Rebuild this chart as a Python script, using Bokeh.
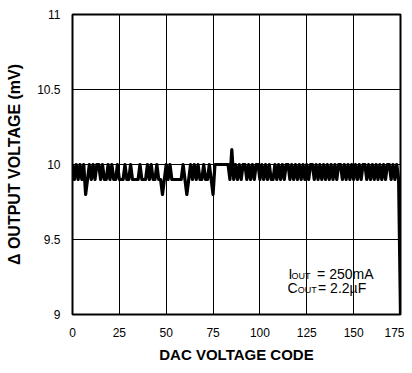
from bokeh.plotting import figure
from bokeh.models import Label, FixedTicker, Range1d
from bokeh.embed import file_html
from bokeh.resources import INLINE

# DAC code (x) and delta output voltage in mV (y)
codes = list(range(0, 176))
dvout = [
    10.0, 9.9, 10.0, 9.9, 10.0, 9.9, 10.0, 9.8, 9.9, 10.0,
    9.9, 10.0, 9.9, 10.0, 10.0, 9.9, 10.0, 9.9, 9.9, 10.0,
    9.9, 10.0, 9.9, 9.9, 10.0, 9.9, 9.9, 9.9, 10.0, 9.9,
    9.9, 10.0, 9.9, 9.9, 9.9, 9.9, 10.0, 9.9, 9.9, 9.9,
    10.0, 9.9, 10.0, 9.9, 9.9, 10.0, 9.9, 9.9, 9.8, 9.9,
    10.0, 9.9, 10.0, 9.9, 9.9, 9.9, 9.9, 9.9, 9.9, 10.0,
    9.9, 9.8, 9.9, 10.0, 9.9, 10.0, 9.9, 10.0, 9.9, 9.9,
    10.0, 9.9, 9.9, 10.0, 9.9, 9.8, 10.0, 10.0, 10.0, 10.0,
    10.0, 10.0, 10.0, 10.0, 9.9, 10.1, 9.9, 10.0, 9.9, 10.0,
    9.9, 10.0, 10.0, 9.9, 10.0, 9.9, 10.0, 9.9, 10.0, 10.0,
    9.9, 10.0, 9.9, 10.0, 9.9, 10.0, 9.9, 9.9, 10.0, 9.9,
    10.0, 9.9, 10.0, 9.9, 10.0, 10.0, 9.9, 10.0, 9.9, 10.0,
    9.9, 10.0, 9.9, 10.0, 9.9, 10.0, 9.9, 10.0, 10.0, 9.9,
    10.0, 9.9, 10.0, 9.9, 10.0, 9.9, 10.0, 9.9, 10.0, 9.9,
    10.0, 9.9, 10.0, 10.0, 9.9, 10.0, 9.9, 10.0, 9.9, 10.0,
    9.9, 10.0, 9.9, 10.0, 9.9, 10.0, 10.0, 9.9, 10.0, 9.9,
    10.0, 9.9, 10.0, 9.9, 10.0, 9.9, 10.0, 9.9, 10.0, 10.0,
    9.9, 10.0, 9.9, 10.0, 9.9, 9.0,
]

x_ticks = [0, 25, 50, 75, 100, 125, 150, 175]
y_ticks = [9, 9.5, 10, 10.5, 11]
y_tick_labels = {9: "9", 9.5: "9.5", 10: "10", 10.5: "10.5", 11: "11"}

FONT = "Liberation Sans"

p = figure(width=404, height=365, output_backend="svg", toolbar_location=None,
           x_range=Range1d(0, 175), y_range=Range1d(9, 11))
p.min_border_left = 72
p.min_border_right = 4
p.min_border_top = 14
p.min_border_bottom = 50

p.line(codes, dvout, line_color="black", line_width=3.2, line_join="round")

p.outline_line_color = "black"
p.outline_line_width = 2
p.outline_line_alpha = 1

for ax in (p.xaxis[0], p.yaxis[0]):
    ax.axis_line_color = None
    ax.major_tick_line_color = None
    ax.minor_tick_line_color = None
    ax.major_tick_out = 0
    ax.major_tick_in = 0
    ax.major_label_text_font = FONT
    ax.major_label_text_font_size = "12px"
    ax.major_label_text_color = "black"
    ax.axis_label_text_font = FONT
    ax.axis_label_text_font_style = "bold"
    ax.axis_label_text_color = "black"

p.xaxis.axis_label_text_font_size = "15px"
p.yaxis.axis_label_text_font_size = "16px"
p.xaxis.ticker = FixedTicker(ticks=x_ticks)
p.yaxis.ticker = FixedTicker(ticks=y_ticks)
p.yaxis.major_label_overrides = y_tick_labels
p.xaxis.axis_label = "DAC VOLTAGE CODE"
p.yaxis.axis_label = "\u0394 OUTPUT VOLTAGE (mV)"
p.xaxis.major_label_standoff = 13
p.yaxis.major_label_standoff = 12
p.xaxis.axis_label_standoff = 6
p.yaxis.axis_label_standoff = 11

p.xgrid.ticker = FixedTicker(ticks=x_ticks)
p.ygrid.ticker = FixedTicker(ticks=y_ticks)
for g in (p.xgrid[0], p.ygrid[0]):
    g.grid_line_color = "black"
    g.grid_line_width = 1
    g.grid_line_alpha = 1

# annotation with subscripts (data units)
def lab(txt, x, y, size):
    p.add_layout(Label(x=x, y=y, text=txt, text_font=FONT, text_font_size=size,
                       text_color="black", text_baseline="alphabetic"))

lab("I", 115.2, 9.273, "14px")
lab("OUT", 116.9, 9.258, "9px")
lab("= 250mA", 130.5, 9.273, "14px")
lab("C", 114.7, 9.18, "14px")
lab("OUT", 120.2, 9.163, "9px")
lab("= 2.2\u00b5F", 131.0, 9.18, "14px")

open("out.html", "w").write(file_html(p, INLINE))
